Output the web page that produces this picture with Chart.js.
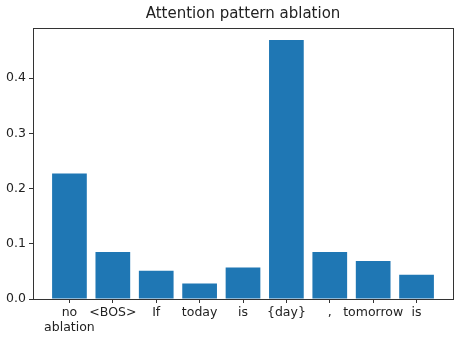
<!DOCTYPE html>
<html>
<head>
<meta charset="utf-8">
<script src="https://cdn.jsdelivr.net/npm/chart.js@4"></script>
<style>
  html, body { margin: 0; padding: 0; background: #fff; }
  #wrap { width: 466px; height: 341px; }
</style>
</head>
<body>
<div id="wrap"><canvas id="ablationChart" width="466" height="341"></canvas></div>
<script>
// token labels along the x axis
var tokens = [['no', 'ablation'], '<BOS>', 'If', 'today', 'is', '{day}', ',', 'tomorrow', 'is'];
var effect = [0.227, 0.085, 0.051, 0.028, 0.057, 0.469, 0.085, 0.069, 0.044];
var yTicks = [0.0, 0.1, 0.2, 0.3, 0.4];
var chartTitle = 'Attention pattern ablation';

var points = effect.map(function (v, i) { return { x: i, y: v }; });

// matplotlib style frame round the plot area, title centred over it
var framePlugin = {
    id: 'frame',
    afterDraw: function (chart) {
        var a = chart.chartArea, ctx = chart.ctx;
        ctx.save();
        ctx.strokeStyle = '#333';
        ctx.lineWidth = 1;
        ctx.strokeRect(Math.round(a.left) + 0.5, Math.round(a.top) + 0.5,
            Math.round(a.right - a.left), Math.round(a.bottom - a.top));
        ctx.fillStyle = '#222';
        ctx.font = '15px "DejaVu Sans"';
        ctx.textAlign = 'center';
        ctx.textBaseline = 'middle';
        ctx.fillText(chartTitle, (a.left + a.right) / 2, 14);
        ctx.restore();
    }
};

var ctx = document.getElementById('ablationChart').getContext('2d');
var chart = new Chart(ctx, {
    type: 'bar',
    data: {
        datasets: [{
            data: points,
            backgroundColor: '#1f77b4',
            borderWidth: 0,
            barPercentage: 0.8,
            categoryPercentage: 1.0
        }]
    },
    options: {
        responsive: false,
        animation: false,
        layout: { padding: { left: 0, right: 13, top: 28, bottom: 0 } },
        plugins: {
            legend: { display: false },
            tooltip: { enabled: false },
            title: { display: false }
        },
        scales: {
            x: {
                type: 'linear',
                offset: false,
                min: -0.84,
                max: 8.84,
                afterBuildTicks: function (scale) {
                    scale.ticks = tokens.map(function (t, i) { return { value: i }; });
                },
                afterFit: function (scale) { scale.height = 42; },
                ticks: {
                    autoSkip: false,
                    maxRotation: 0,
                    color: '#222',
                    padding: 2,
                    font: { family: 'DejaVu Sans', size: 12.5, lineHeight: 1.2 },
                    callback: function (value) { return tokens[value]; }
                },
                grid: { offset: false, drawOnChartArea: false, drawTicks: true, tickLength: 4, color: '#333' },
                border: { color: '#333' }
            },
            y: {
                min: 0,
                max: 0.4905,
                afterBuildTicks: function (scale) {
                    scale.ticks = yTicks.map(function (v) { return { value: v }; });
                },
                afterFit: function (scale) { scale.width = 33; },
                ticks: {
                    color: '#222',
                    padding: 3,
                    font: { family: 'DejaVu Sans', size: 12.5 },
                    callback: function (value) { return value.toFixed(1); }
                },
                grid: { drawOnChartArea: false, drawTicks: true, tickLength: 4, color: '#333' },
                border: { color: '#333' }
            }
        }
    },
    plugins: [framePlugin]
});
</script>
</body>
</html>
